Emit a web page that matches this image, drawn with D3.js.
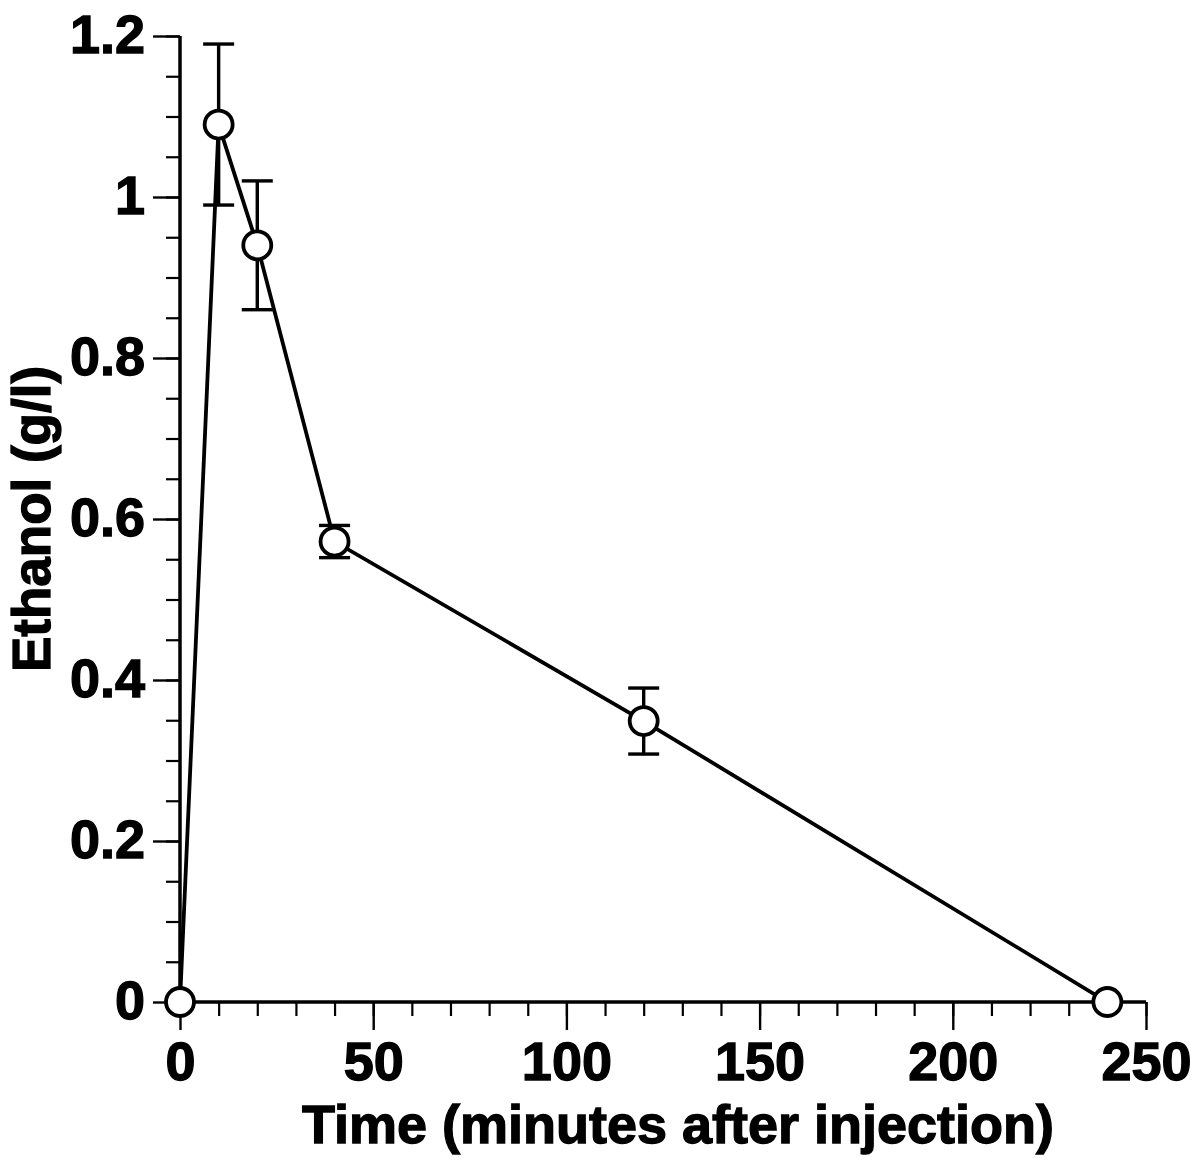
<!DOCTYPE html>
<html>
<head>
<meta charset="utf-8">
<script src="https://cdn.jsdelivr.net/npm/d3@7"></script>
<style>
  body { margin: 0; background: #fff; }
  text { font-family: "Liberation Sans", Arial, Helvetica, sans-serif; font-weight: bold; fill: #000; stroke: #000; stroke-width: 1.3px; }
</style>
</head>
<body>
<div id="chart"></div>
<script>
// time after injection (minutes), ethanol (g/l), and error (+/-)
let times = [0, 10, 20, 40, 120, 240];
let ethanol = [0, 1.09, 0.94, 0.572, 0.349, 0];
let errors = [0, 0.10, 0.08, 0.02, 0.041, 0];

let xTicks = [0, 50, 100, 150, 200, 250];
let yTicks = [0, 0.2, 0.4, 0.6, 0.8, 1, 1.2];
let xMinor = d3.range(0, 251, 10);
let yMinor = d3.range(0, 1.2001, 0.05);

let width = 1200, height = 1164;
let margin = {top: 36, right: 54, bottom: 162, left: 180};

let data = times.map((t, i) => ({t: t, v: ethanol[i], e: errors[i]}));

let xScale = d3.scaleLinear().domain([0, 250]).range([margin.left, width - margin.right]);
let yScale = d3.scaleLinear().domain([0, 1.2]).range([height - margin.bottom, margin.top]);

let svg = d3.select('#chart').append('svg')
    .attr('width', width)
    .attr('height', height);

// minor ticks
svg.append('g')
    .attr('transform', 'translate(' + margin.left + ',0)')
    .call(d3.axisLeft(yScale).tickValues(yMinor).tickSize(14).tickSizeOuter(0).tickFormat(''))
    .call(g => g.select('.domain').remove())
    .selectAll('line').attr('stroke-width', 2.2);

svg.append('g')
    .attr('transform', 'translate(0,' + yScale(0) + ')')
    .call(d3.axisBottom(xScale).tickValues(xMinor).tickSize(14).tickSizeOuter(0).tickFormat(''))
    .call(g => g.select('.domain').remove())
    .selectAll('line').attr('stroke-width', 2.2);

// major ticks + labels
let yAxis = svg.append('g')
    .attr('transform', 'translate(' + margin.left + ',0)')
    .call(d3.axisLeft(yScale).tickValues(yTicks).tickSize(27).tickPadding(8).tickSizeOuter(0).tickFormat(d3.format('~g')));
yAxis.select('.domain').remove();
yAxis.selectAll('line').attr('stroke-width', 2.4);
yAxis.selectAll('text').attr('font-size', 54).attr('dy', '0.3em');

let xAxis = svg.append('g')
    .attr('transform', 'translate(0,' + yScale(0) + ')')
    .call(d3.axisBottom(xScale).tickValues(xTicks).tickSize(28).tickPadding(12).tickSizeOuter(0));
xAxis.select('.domain').remove();
xAxis.selectAll('line').attr('stroke-width', 2.4);
xAxis.selectAll('text').attr('font-size', 54);

// axis lines
svg.append('line')
    .attr('x1', margin.left).attr('x2', margin.left)
    .attr('y1', yScale(1.2)).attr('y2', yScale(0))
    .attr('stroke', '#000').attr('stroke-width', 3.5);
svg.append('line')
    .attr('x1', margin.left).attr('x2', xScale(250))
    .attr('y1', yScale(0)).attr('y2', yScale(0))
    .attr('stroke', '#000').attr('stroke-width', 3.5);

// axis titles
svg.append('text')
    .attr('x', 678).attr('y', 1143)
    .attr('text-anchor', 'middle')
    .attr('font-size', 54)
    .text('Time (minutes after injection)');

svg.append('text')
    .attr('transform', 'translate(50,' + ((yScale(0) + yScale(1.2)) / 2) + ') rotate(-90)')
    .attr('text-anchor', 'middle')
    .attr('font-size', 53)
    .text('Ethanol (g/l)');

// error bars
let withErr = data.filter(d => d.e > 0);
let capHalf = 15.5;
let err = svg.append('g').attr('stroke', '#000').attr('stroke-width', 3.4);
err.selectAll('line.stem').data(withErr).enter().append('line')
    .attr('x1', d => xScale(d.t)).attr('x2', d => xScale(d.t))
    .attr('y1', d => yScale(d.v + d.e)).attr('y2', d => yScale(d.v - d.e));
err.selectAll('line.top').data(withErr).enter().append('line')
    .attr('x1', d => xScale(d.t) - capHalf).attr('x2', d => xScale(d.t) + capHalf)
    .attr('y1', d => yScale(d.v + d.e)).attr('y2', d => yScale(d.v + d.e));
err.selectAll('line.bot').data(withErr).enter().append('line')
    .attr('x1', d => xScale(d.t) - capHalf).attr('x2', d => xScale(d.t) + capHalf)
    .attr('y1', d => yScale(d.v - d.e)).attr('y2', d => yScale(d.v - d.e));

// line
svg.append('path')
    .datum(data)
    .attr('fill', 'none')
    .attr('stroke', '#000')
    .attr('stroke-width', 3.8)
    .attr('d', d3.line().x(d => xScale(d.t)).y(d => yScale(d.v)));

// markers
svg.selectAll('circle').data(data).enter().append('circle')
    .attr('cx', d => xScale(d.t))
    .attr('cy', d => yScale(d.v))
    .attr('r', 14)
    .attr('fill', '#fff')
    .attr('stroke', '#000')
    .attr('stroke-width', 3.8);
</script>
</body>
</html>
